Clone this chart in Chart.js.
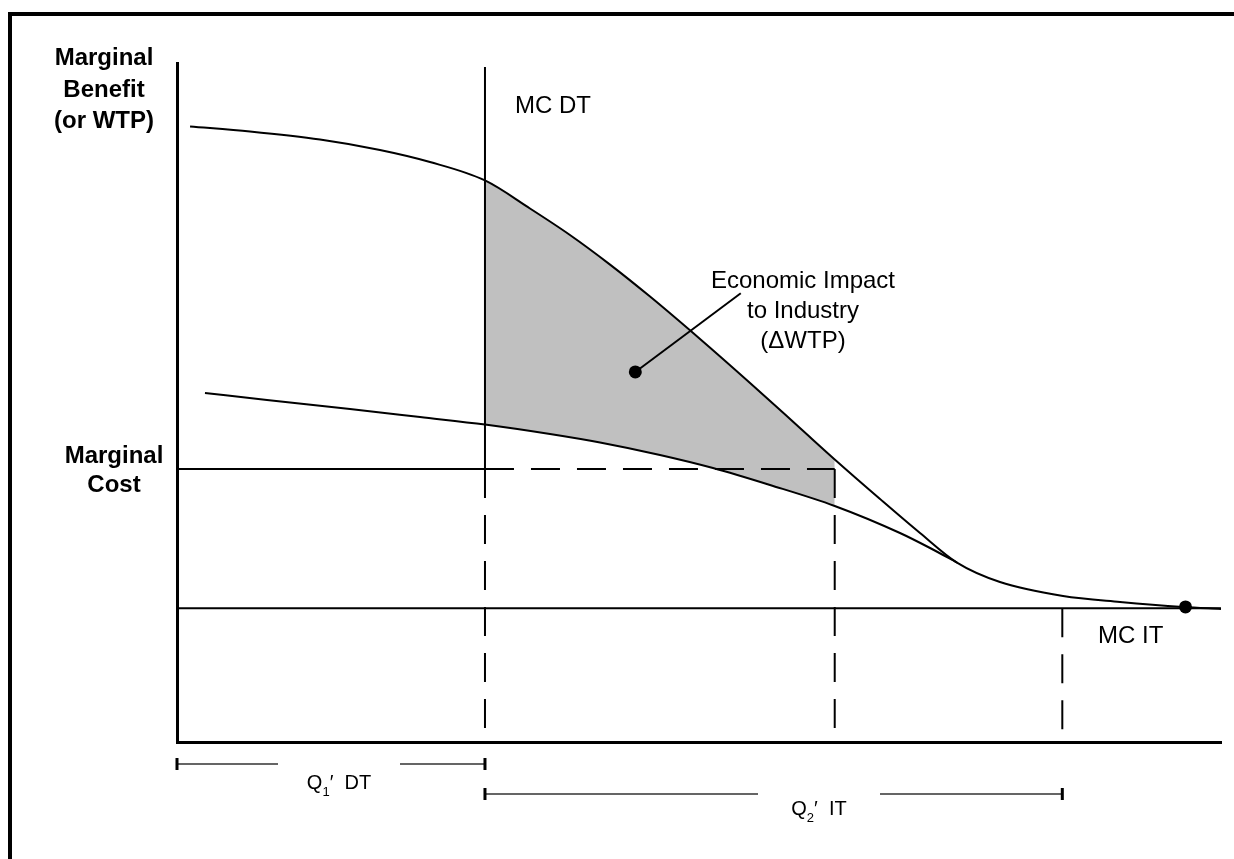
<!DOCTYPE html>
<html><head><meta charset="utf-8">
<script src="https://cdn.jsdelivr.net/npm/chart.js@4.4.1/dist/chart.umd.min.js"></script>
<style>html,body{margin:0;padding:0;background:#fff}canvas{display:block}</style>
</head><body>
<canvas id="c" width="1234" height="859"></canvas>
<script>
// ---- data (quantity index 0..100, price index 0..100) ----
const wtpX = [1.25, 6.99, 13.70, 19.44, 24.23, 29.5, 33.81, 37.64, 41.48, 45.31, 50.10, 54.89, 59.67, 63.0, 67.34, 71.17, 74.71, 78.83, 84.87, 90.33, 96.36, 100];
const wtpY = [90.65, 89.91, 88.73, 87.19, 85.42, 82.70, 78.57, 74.67, 70.31, 65.60, 59.35, 52.87, 46.24, 41.61, 35.79, 30.78, 26.42, 23.56, 21.50, 20.62, 19.88, 19.59];
const lowX = [2.68, 8.62, 16.57, 23.28, 29.5, 35.73, 40.52, 46.26, 51.34, 56.80, 63.0, 69.25, 72.13, 74.71];
const lowY = [51.40, 50.37, 49.04, 47.86, 46.76, 45.36, 44.11, 42.27, 40.35, 37.85, 34.76, 30.78, 28.57, 26.42];
const mcDT = 40.2;      // marginal cost level
const mcIT = 19.7;      // MC IT level
const q1DT = 29.5;      // Q1' DT
const qMid = 63.0;      // end of shaded region
const q2IT = 84.8;      // Q2' IT
const mcDTTop = 99.4;
const impactDot = {x: 43.9, y: 54.5};
const leaderEnd = {x: 54.0, y: 66.1};
const itDot = {x: 96.6, y: 19.9};

const FONT = '"Liberation Sans", Arial, Helvetica, sans-serif';
const DASH = [29, 17];

function pts(xs, ys){ return xs.map((x,i)=>({x:x, y:ys[i]})); }
function between(xs, ys, a, b){ return pts(xs,ys).filter(p=>p.x>=a-1e-9 && p.x<=b+1e-9); }
function line(data, extra){
  return Object.assign({data:data, showLine:true, borderColor:'#000', borderWidth:2, pointRadius:0, fill:false, tension:0, order:1}, extra||{});
}

const datasets = [
  line(between(wtpX,wtpY,q1DT,qMid), {borderColor:'rgba(0,0,0,0)', backgroundColor:'#c0c0c0', fill:'+1', cubicInterpolationMode:'monotone', order:10}),
  line(between(lowX,lowY,q1DT,qMid), {borderColor:'rgba(0,0,0,0)', cubicInterpolationMode:'monotone', order:10}),
  line(pts(wtpX,wtpY), {cubicInterpolationMode:'monotone'}),
  line(pts(lowX,lowY), {cubicInterpolationMode:'monotone'}),
  line([{x:q1DT,y:mcDT},{x:q1DT,y:mcDTTop}]),
  line([{x:q1DT,y:mcDT},{x:q1DT,y:0}], {borderDash:DASH}),
  line([{x:0,y:mcDT},{x:q1DT,y:mcDT}]),
  line([{x:q1DT,y:mcDT},{x:qMid,y:mcDT}], {borderDash:DASH}),
  line([{x:qMid,y:mcDT},{x:qMid,y:0}], {borderDash:DASH}),
  line([{x:0,y:mcIT},{x:100,y:mcIT}]),
  line([{x:q2IT,y:mcIT},{x:q2IT,y:0}], {borderDash:DASH}),
  line([impactDot, leaderEnd]),
  {data:[impactDot, itDot], showLine:false, pointRadius:6.5, pointBackgroundColor:'#000', pointBorderWidth:0, order:0}
];

const decor = {
  id:'decor',
  beforeDraw(chart){
    const c = chart.ctx; c.save();
    c.fillStyle='#fff'; c.fillRect(0,0,chart.width,chart.height);
    c.fillStyle='#000';
    c.fillRect(8,12,chart.width-8,4);
    c.fillRect(8,12,4,chart.height-12);
    c.restore();
  },
  afterDraw(chart){
    const c = chart.ctx, xs = chart.scales.x;
    c.save();
    c.fillStyle='#000'; c.textBaseline='alphabetic';
    function t(s,x,y,f,al){ c.font=f; c.textAlign=al||'left'; c.fillText(s,x,y); }
    const B = 'bold 24px '+FONT, R = '24px '+FONT;
    t('Marginal',104,65,B,'center');
    t('Benefit',104,97,B,'center');
    t('(or WTP)',104,128,B,'center');
    t('Marginal',114,463,B,'center');
    t('Cost',114,492,B,'center');
    t('MC DT',515,113,R);
    t('Economic Impact',803,288,R,'center');
    t('to Industry',803,318,R,'center');
    t('(\u0394WTP)',803,348,R,'center');
    t('MC IT',1098,643,R);

    function qlabel(sub, rest, cx, base){
      const f1='20px '+FONT, f2='13px '+FONT;
      c.font=f1; const wQ=c.measureText('Q').width, wR=c.measureText(rest).width, wP=c.measureText('\u2032').width;
      c.font=f2; const wS=c.measureText(sub).width;
      const total=wQ+wS+wP+wR;
      let x=cx-total/2;
      t('Q',x,base,f1); x+=wQ;
      t(sub,x,base+7,f2); x+=wS;
      t('\u2032',x,base,f1); x+=wP;
      t(rest,x,base,f1);
    }
    function bracket(a,b,y,gc,gw){
      const x1=xs.getPixelForValue(a), x2=xs.getPixelForValue(b);
      c.strokeStyle='#333'; c.lineWidth=1.5;
      c.beginPath(); c.moveTo(x1,y); c.lineTo(gc-gw,y); c.moveTo(gc+gw,y); c.lineTo(x2,y); c.stroke();
      c.strokeStyle='#000'; c.lineWidth=3;
      c.beginPath(); c.moveTo(x1,y-6); c.lineTo(x1,y+6); c.moveTo(x2,y-6); c.lineTo(x2,y+6); c.stroke();
    }
    bracket(0,q1DT,764,339,61);
    qlabel('1','  DT',339,789);
    bracket(q1DT,q2IT,794,819,61);
    qlabel('2','  IT',819,815);
    c.restore();
  }
};

new Chart(document.getElementById('c'), {
  type:'scatter',
  data:{datasets:datasets},
  options:{
    responsive:false, animation:false, maintainAspectRatio:false,
    layout:{padding:{left:177, top:63, right:13, bottom:117}},
    plugins:{legend:{display:false}, tooltip:{enabled:false}, filler:{drawTime:'beforeDatasetsDraw'}},
    elements:{line:{borderCapStyle:'butt'}},
    scales:{
      x:{type:'linear', min:0, max:100, ticks:{display:false}, grid:{display:false, drawTicks:false}, border:{display:true, color:'#000', width:3}},
      y:{type:'linear', min:0, max:100, ticks:{display:false}, grid:{display:false, drawTicks:false}, border:{display:true, color:'#000', width:3}}
    }
  },
  plugins:[decor]
});
</script>
</body></html>
